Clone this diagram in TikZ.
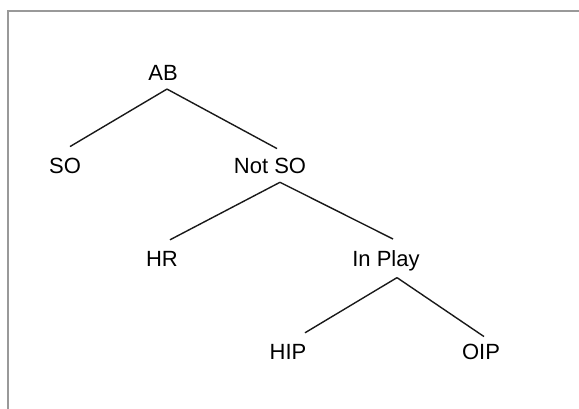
\documentclass[tikz,border=0pt]{standalone}
\usepackage{fontspec}
\setmainfont{Liberation Sans}
\usepackage{tikz}

\begin{document}
\begin{tikzpicture}[x = .5pt, y = -.5pt,
    outcome/.style = {anchor = base, font = \fontsize{11}{13}\selectfont},
    branch/.style = {black!90, line width = .7pt}]
    %% frame
    \useasboundingbox (0, 0) rectangle (579, 408);
    \draw[black!40, line width = .9pt] (8, 420) -- (8, 11) -- (590, 11);

    %% outcomes
    \node[outcome] (ab) at (163, 80) {AB};
    \node[outcome] (so) at (65, 173) {SO};
    \node[outcome] (notso) at (270, 173) {Not SO};
    \node[outcome] (hr) at (162, 266) {HR};
    \node[outcome] (inplay) at (386, 266) {In Play};
    \node[outcome] (hip) at (288, 359) {HIP};
    \node[outcome] (oip) at (481, 359) {OIP};

    %% branches
    \draw[branch] ([xshift = 2pt, yshift = -1pt]ab.south) -- ([xshift = 2.5pt, yshift = 2pt]so.north);
    \draw[branch] ([xshift = 2pt, yshift = -1pt]ab.south) -- ([xshift = 3.5pt, yshift = 1pt]notso.north);
    \draw[branch] ([xshift = 5pt, yshift = -1pt]notso.south) -- ([xshift = 4pt, yshift = 2pt]hr.north);
    \draw[branch] ([xshift = 5pt, yshift = -1pt]notso.south) -- ([xshift = 3.5pt, yshift = 2pt]inplay.north);
    \draw[branch] ([xshift = 5.5pt]inplay.south) -- ([xshift = 8.5pt, yshift = 2pt]hip.north);
    \draw[branch] ([xshift = 5.5pt]inplay.south) -- ([xshift = 1.5pt]oip.north);
\end{tikzpicture}
\end{document}
